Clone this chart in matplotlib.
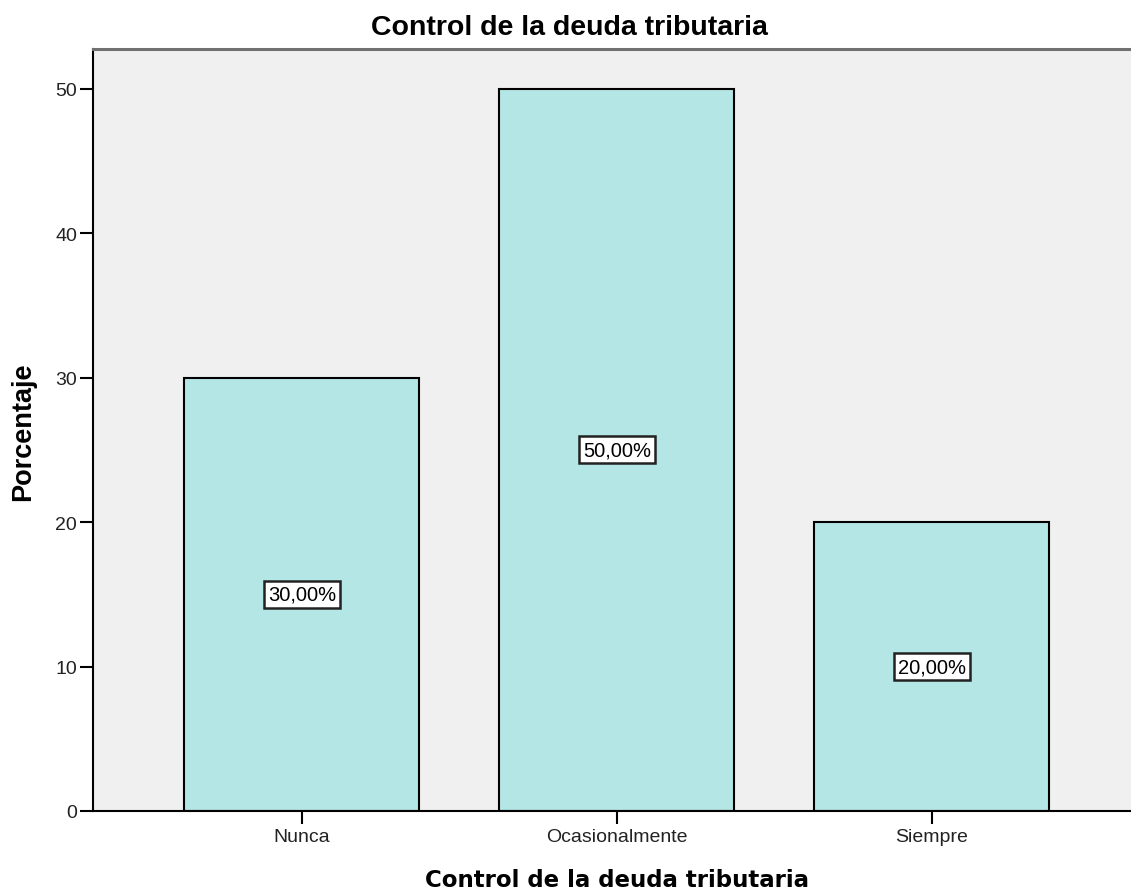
import matplotlib
matplotlib.use("Agg")
import matplotlib.pyplot as plt

categories = ["Nunca", "Ocasionalmente", "Siempre"]
values = [30.0, 50.0, 20.0]
value_labels = ["30,00%", "50,00%", "20,00%"]
yticks = [0, 10, 20, 30, 40, 50]
title = "Control de la deuda tributaria"
xlabel = "Control de la deuda tributaria"
ylabel = "Porcentaje"

W, H = 1131, 895
fig = plt.figure(figsize=(W / 100, H / 100), dpi=100)
ax = fig.add_axes([93 / W, (H - 812) / H, 1 - 93 / W, (812 - 50) / H])
ax.set_facecolor("#f0f0f0")

x = list(range(len(categories)))
ax.bar(x, values, width=0.746, color="#b4e6e6", edgecolor="black", linewidth=1.5, zorder=2)

for xi, v, lab in zip(x, values, value_labels):
    ax.text(xi, v / 2, lab, ha="center", va="center", fontsize=14.5,
            family="Liberation Sans", zorder=3,
            bbox=dict(boxstyle="square,pad=0.2", facecolor="white",
                      edgecolor="#222222", linewidth=1.8))

ax.set_xlim(-0.663, 2.632)
ax.set_ylim(0, 52.75)
ax.set_xticks(x)
ax.set_xticklabels(categories, family="Liberation Sans", fontsize=14)
ax.set_yticks(yticks)
ax.set_yticklabels([str(t) for t in yticks], family="Liberation Sans", fontsize=14)
ax.tick_params(axis="both", direction="out", length=9.5, width=1.5, color="black",
               labelcolor="#222222")
ax.tick_params(axis="y", pad=2)
ax.tick_params(axis="x", pad=3)

ax.spines["left"].set_color("black")
ax.spines["left"].set_linewidth(1.5)
ax.spines["bottom"].set_color("black")
ax.spines["bottom"].set_linewidth(1.5)
ax.spines["top"].set_color("#707070")
ax.spines["top"].set_linewidth(2.2)
ax.spines["right"].set_visible(False)

fig.text(569 / W, 1 - 28 / H, title, ha="center", va="center", fontsize=20.5,
         fontweight="bold", family="Liberation Sans")
fig.text(617 / W, 1 - 881 / H, xlabel, ha="center", va="center", fontsize=16.5,
         fontweight="bold", family="DejaVu Sans")
fig.text(23 / W, 1 - 432 / H, ylabel, ha="center", va="center", fontsize=19.5,
         fontweight="bold", family="Liberation Sans", rotation=90)

fig.savefig("out.png", dpi=100)
